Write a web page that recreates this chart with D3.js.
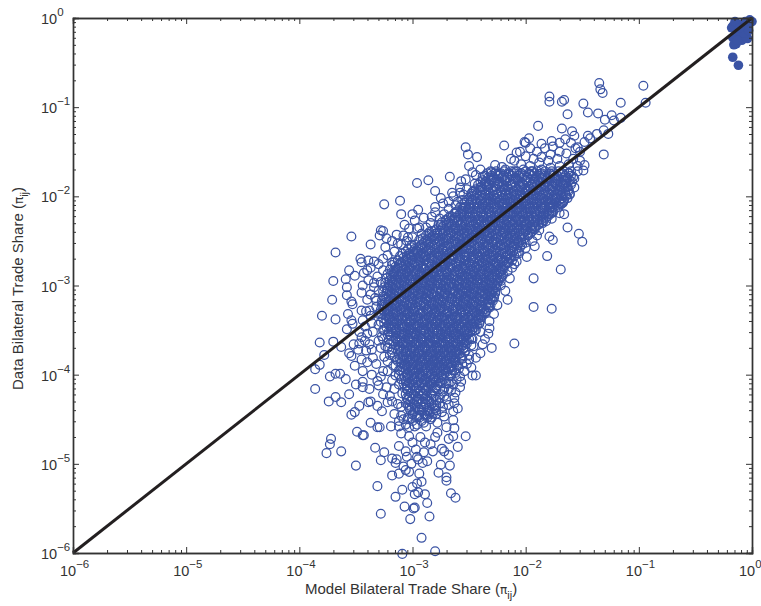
<!DOCTYPE html>
<html>
<head>
<meta charset="utf-8">
<script src="https://cdnjs.cloudflare.com/ajax/libs/d3/7.8.5/d3.min.js"></script>
<style>
  body { margin: 0; background: #fff; }
  text { font-family: "Liberation Sans", Arial, sans-serif; fill: #333; }
</style>
</head>
<body>
<div id="chart"></div>
<script>
// All shares below are written as -100 * log10(share)
var decades = [-6, -5, -4, -3, -2, -1, 0];
var minorMultiples = [2, 3, 4, 5, 6, 7, 8, 9];
var xLabel = "Model Bilateral Trade Share (";
var yLabel = "Data Bilateral Trade Share (";

// filled circles, top right corner [model, data]
var domesticShares = [[17,44],[12,53],[17,9],[14,13],[10,7],[6,4],[2,2],[4,8],[0,4],[6,13],[12,19],[17,22],[14,29],[16,30],[9,25],[4,23],[7,17],[18,11],[15,4],[3,14],[11,11],[13,25]];

// open circles that can be told apart, [model, data]
var tradeShares = [[253,145],[251,153],[243,156],[250,166],[227,165],[267,178],[286,182],[296,185],[280,194],[311,205],[325,209],[310,220],[295,215],[300,220],[280,212],[275,202],[264,200],[257,183],[253,181],[247,173],[230,173],[238,178],[258,190],[255,198],[247,195],[273,208],[260,206],[307,232],[328,238],[326,239],[329,244],[323,247],[354,245],[337,254],[368,263],[314,243],[313,253],[324,257],[303,236],[298,227],[294,235],[283,223],[280,238],[301,255],[304,246],
[346,270],[345,274],[339,272],[334,273],[337,280],[340,283],[356,283],[351,289],[343,286],[359,293],[370,295],[339,294],[344,300],[358,302],[345,308],[358,311],[334,302],[371,316],[354,318],[353,321],[332,317],[357,332],[341,329],[338,328],[380,334],[368,338],[354,339],[358,349],[353,343],[344,339],[382,364],[370,363],[363,369],[378,378],[356,376],[354,379],[382,389],[386,394],[351,390],[345,383],[373,402],[368,399],[364,399],[359,405],[386,416],[350,411],[344,408],[344,414],[331,407],[323,414],[347,365],[342,362],[341,373],[335,381],[326,396],[247,401],[244,401],[257,408],[248,360],[255,371],[244,381],[261,390],[252,388],
[374,430],[368,425],[363,431],[356,422],[354,445],[351,442],[347,435],[339,431],[337,430],[331,435],[327,441],[337,454],[331,459],[329,459],[319,458],[349,464],[344,468],[343,468],[372,472],[373,478],[376,488],[363,486],[350,502],[333,482],[325,487],[328,496],[318,494],[314,495],[315,499],[318,513],[312,511],[331,525],[309,529],[315,537],[328,556],[307,548],[298,549],[299,550],[302,562],[285,559],[287,544],[289,534],[298,534],[295,532],[300,526],[296,522],[292,520],[294,511],[306,507],[303,509],[277,510],[275,501],[267,502],[270,515],[270,519],[266,533],[262,538],[292,583],[280,598],[309,601],[253,469],[260,481],[278,465],[268,472],[264,469],[272,486],[268,490],[274,483],[282,486],[287,497],[295,495],[291,499],[297,484],[306,486],[312,480],[289,476],[293,470],[303,469],[312,458],[298,458],[288,458],[270,459],[263,460],[264,451],[272,447],[279,444],[260,438],[264,441],[285,444],[316,444],[322,431],[313,433],[320,424],[263,426],[263,432],[303,459],[310,466],[300,476],[305,492],[296,492],[301,500],[308,503],[290,487],[284,478],[280,470],
[135,73],[134,80],[132,84],[96,76],[94,95],[116,95],[149,96],[179,88],[179,94],[168,94],[166,92],[163,108],[145,106],[136,107],[130,114],[124,109],[122,115],[116,112],[189,121],[168,124],[159,127],[157,132],[145,132],[143,135],[137,130],[131,126],[127,130],[131,153],[219,143],[197,135],[201,139],[186,141],[177,138],[148,139],[154,145],[213,158],[208,151],[221,167],[149,171],[157,180],[157,190],[161,198],[167,206],[170,219],[166,220],[177,225],[185,230],[163,235],[153,242],[150,251],[179,245],[176,249],[190,244],[192,256],[199,268],[181,267],[169,282],[193,292],[208,273],[210,276],[216,284],[221,282],[222,295],[216,316],[193,324],[177,326],[225,322],[227,309],[232,340],[233,354],[210,365],[238,366],[230,370],[247,360],[241,343]];

// looser rings round the edge of the cloud, estimates
var cloudFringe = [[200,140],[196,146],[190,150],[183,146],[176,144],[170,140],[165,136],[160,140],[156,146],[152,150],[170,150],[178,153],[186,156],[193,158],[200,155],[205,150],[210,160],[204,164],[196,166],[188,162],[180,160],[172,158],[164,152],[158,158],[152,160],[148,165],[154,166],[162,164],[170,166],[178,168],[186,170],[194,172],[202,170],[210,172],[218,170],[225,175],[232,181],[240,170],[236,184],
[245,186],[252,192],[248,200],[256,204],[262,210],[268,214],[272,220],[265,196],[258,196],[244,176],[240,190],[276,225],[284,230],[288,235],[292,242],[300,246],[305,250],[280,218],[270,226],[262,218],[254,212],[290,224],[285,240],[275,232],[268,206],[296,236],[310,254],[318,250],[308,244],
[316,262],[322,266],[326,270],[318,274],[330,276],[326,283],[331,290],[328,296],[334,297],[330,306],[337,310],[333,314],[340,316],[332,324],[337,334],[345,328],[330,332],[336,342],[342,346],[330,344],[347,352],[340,354],[335,352],[326,350],[345,358],[338,366],[330,362],[352,366],[348,372],[336,372],[328,370],[325,380],[340,386],[332,388],[322,385],[344,396],[336,400],[328,402],[322,396],[318,406],[330,412],[316,416],[338,416],[326,422],[318,430],[310,436],
[232,325],[228,332],[236,330],[232,348],[240,352],[236,360],[244,350],[246,368],[250,378],[240,376],[256,382],[248,392],[262,398],[258,402],[254,396],[266,408],[258,414],[268,416],[272,424],[262,420],[276,432],[268,434],[280,438],[274,442],[284,450],[278,454],[292,452],[300,452],[308,450],[296,446],
[222,300],[218,306],[228,314],[214,292],[220,288],[212,280],[214,270],[206,264],[200,258],[204,252],[194,250],[198,244],[188,238],[192,234],[182,228],[186,222],[176,218],[178,212],[168,208],[172,202],[162,194],[166,188],[158,178],[162,174],[154,172],
[327,357],[321,361],[324,368],[318,372],[320,378],[314,383],[317,390],[312,395],[315,401],[310,405],[312,411],[307,415],[309,421],[305,426],[306,432],[303,437],
[252,362],[248,367],[253,373],[258,376],[250,383],[256,388],[262,386],[259,393],[265,395],[261,405],[267,402],[264,411],[270,410],[266,418],[273,419],[270,428],[276,426],[273,436],[279,434],[282,444],
[310,446],[304,450],[312,452],[300,444],[294,448],[288,446],[284,442],[306,456],[296,456],[290,454]];

// saturated middle of the cloud, rows of [data, model, model, ...]; positions here are estimates
var cloudRows = [
[172,231,226,219,213,208,200,195,190,183,177,171,166,160],
[174,234,227,222,215,210,204,197,192,186,179,175,168,162],
[177,236,230,224,219,212,206,201,194,188,183,176,172,165,160],
[179,233,228,221,216,209,203,198,191,186,180,174,167,163],
[182,238,231,226,218,214,207,200,196,189,185,178,173,166,161],
[184,240,235,228,223,217,210,205,199,192,187,181,175,169,164,159],
[187,242,236,232,225,219,213,206,202,195,190,184,177,172,167,160],
[189,239,234,227,221,216,209,204,197,193,186,180,176,170,163],
[192,244,238,233,226,220,215,208,203,198,191,186,179,174,168,162],
[194,246,240,235,229,222,217,211,205,200,194,188,183,176,171,165],
[197,248,243,236,231,225,218,213,208,201,196,190,184,179,172,167,161],
[199,245,239,233,228,221,216,210,204,198,193,187,181,175,169,164],
[202,250,244,238,232,227,220,214,209,202,197,191,186,180,174,168,163],
[204,252,247,240,235,229,223,218,211,206,200,193,188,182,177,170,166],
[207,254,248,243,236,231,224,219,213,207,202,195,190,183,178,173,167],
[209,256,250,245,238,233,227,220,216,209,204,198,192,186,180,175,169],
[212,258,253,246,241,235,228,223,217,212,205,200,194,187,183,176,171],
[214,255,249,243,237,232,225,219,214,208,203,196,191,185,179,174],
[217,261,256,250,244,239,233,226,221,215,209,204,198,192,187,181,176],
[219,263,258,252,247,240,235,230,223,218,212,206,200,195,188,184,177],
[222,266,260,254,249,243,237,231,226,219,214,208,203,197,191,185,180],
[224,268,262,257,250,245,238,233,227,222,216,209,205,198,193,187,182],
[227,271,265,259,253,247,241,235,230,224,217,212,206,201,195,189,184],
[229,274,268,261,256,250,244,239,232,227,221,215,209,204,197,192,186],
[232,277,270,265,258,253,246,241,236,229,224,217,212,206,200,194,189],
[234,273,267,262,255,249,243,237,231,226,220,214,208,202,196,191],
[237,279,274,268,262,256,250,244,239,232,227,220,215,210,203,198,192],
[239,283,276,271,264,259,252,247,241,236,229,223,218,212,206,200,194],
[242,286,280,273,268,261,255,250,244,237,232,226,220,214,209,202,196],
[244,288,282,277,270,264,259,252,246,241,234,229,222,217,211,205,198],
[247,291,285,279,273,268,261,255,250,243,238,232,226,219,214,208,201],
[249,294,288,281,276,270,263,258,251,246,240,234,228,222,216,210,204],
[252,290,284,278,272,266,260,254,248,242,236,230,225,218,213,206,200],
[254,298,292,286,280,275,268,262,257,250,245,238,233,227,221,215,209,203],
[257,301,295,289,284,277,271,266,259,253,248,241,235,229,224,218,212,205],
[259,304,298,292,286,280,274,269,262,256,250,245,238,232,227,220,214,208],
[262,306,300,295,288,283,277,270,265,259,253,247,241,236,229,223,217,211,206],
[264,309,303,296,291,285,279,273,268,261,255,250,243,238,232,226,220,214,208],
[267,311,305,299,293,288,281,275,270,264,258,252,246,240,234,228,223,216,210],
[269,308,302,296,290,284,278,272,266,260,254,248,242,237,231,225,218,213],
[272,313,307,301,295,289,283,278,271,266,259,254,248,241,236,230,224,219,212],
[274,316,310,304,298,293,286,280,275,268,262,257,250,245,238,233,227,221,215],
[277,318,312,306,300,295,288,283,276,271,265,259,253,247,241,235,229,224,218],
[279,315,309,303,297,291,285,279,273,267,261,256,249,244,238,232,226,220],
[282,320,314,308,303,296,290,285,278,272,267,260,255,249,243,237,231,226,220],
[284,317,311,305,299,294,287,281,275,270,263,258,252,246,240,234,228,222],
[287,322,316,310,304,298,292,286,281,274,269,263,256,251,245,239,233,227,222],
[289,319,313,307,301,295,290,283,277,272,265,260,254,248,242,236,230,225],
[292,323,318,311,306,300,294,288,282,276,270,264,258,252,247,240,235,229,223],
[294,320,315,309,302,297,291,285,279,273,268,261,256,250,243,238,232,226],
[297,324,318,312,307,300,295,289,283,277,271,266,259,253,248,242,236,230,225],
[299,321,315,310,304,298,292,286,280,275,268,263,257,251,245,239,233,227],
[302,325,319,314,307,302,296,290,284,278,272,267,260,254,249,243,237,231,226],
[304,322,316,311,305,299,293,287,282,275,270,264,258,252,246,240,234,229],
[307,326,320,314,309,303,297,291,285,279,274,267,262,256,250,244,238,232,227],
[309,323,317,312,306,300,294,288,283,276,271,265,259,253,247,241,236,230],
[312,326,321,315,310,303,298,292,286,280,274,269,262,257,251,245,239,233,228],
[314,323,318,312,307,301,295,289,284,277,272,266,260,254,248,243,236,231],
[317,327,321,316,310,304,299,293,287,281,275,270,263,258,252,246,240,234,229],
[319,324,318,313,307,301,296,290,284,278,273,267,261,255,249,244,238,232],
[322,327,322,316,311,305,300,293,288,282,276,271,264,259,253,247,241,235,231],
[324,325,319,314,308,302,297,290,285,279,274,268,262,256,250,245,239,233],
[327,328,322,317,311,306,300,294,288,283,277,272,265,260,254,248,242,237],
[329,325,320,314,308,303,298,291,286,280,275,269,263,257,251,246,240,235],
[332,327,321,315,310,304,299,293,287,281,276,270,264,258,253,247,241,238],
[334,324,319,313,307,302,296,290,284,279,273,267,261,255,249,244,239],
[337,326,320,316,310,305,299,293,288,282,276,270,265,259,253,247,242],
[339,323,318,312,306,301,295,289,283,278,272,266,260,254,249,244,240],
[342,325,319,314,309,303,297,291,285,280,274,268,262,257,251,246,241],
[344,321,316,310,305,299,294,288,282,276,271,265,259,254,248,243],
[347,323,317,312,307,301,296,290,284,279,273,267,261,256,250,245],
[349,319,314,309,303,298,292,286,281,275,270,264,258,252,247],
[352,321,315,310,304,299,293,288,282,277,271,265,260,254,249],
[354,317,312,307,301,296,290,285,279,274,268,262,257,251],
[357,319,313,308,302,297,291,286,280,275,269,264,258,253],
[359,315,310,304,299,293,288,282,277,271,266,260,255],
[362,317,311,306,300,295,289,284,278,273,267,262,256],
[364,313,308,302,297,291,286,280,275,269,264,258,254],
[367,315,309,304,298,293,287,282,276,271,265,260,255],
[369,311,306,300,295,289,284,279,273,268,262,257],
[372,313,308,302,297,291,286,281,275,270,264,259],
[374,310,305,299,294,288,283,277,272,266,261],
[377,312,306,301,295,290,285,279,274,268,263,259],
[379,309,303,298,292,287,282,276,271,265,261],
[382,311,305,300,294,289,284,278,273,267,262],
[384,308,302,297,291,286,281,275,270,264],
[387,310,304,299,293,288,283,277,272,266],
[389,307,301,296,290,285,280,274,269],
[392,309,303,298,292,287,281,276,271,266],
[394,306,300,295,289,284,278,273,268],
[397,308,302,297,291,286,280,275,270],
[399,305,299,294,288,283,278,272],
[402,307,301,296,291,285,280,274],
[404,304,298,293,288,282,277],
[407,306,300,295,290,284,279,275],
[409,303,297,292,287,281,276],
[412,305,299,294,289,283,278],
[415,302,296,291,286,280],
[418,304,298,293,288,282],
[421,301,295,290,284],
[424,303,297,292,287,281],
[427,300,294,289,283],
[430,302,296,291,285],
[433,299,293,288,283],
[437,301,295,290,285],
[441,298,292,287],
[445,300,294,289]
];

// a second pass over the same area, the picture is nearly solid blue there
var cloudRowsDense = [
[175,223,214,205,196,187,178,169],
[181,228,219,209,201,192,181,172,164],
[186,233,224,212,203,194,183,174,165],
[193,241,229,218,206,199,189,177,170],
[198,236,226,215,205,195,185,173,165],
[203,247,234,225,216,206,194,184,176],
[208,241,229,221,211,199,189,179,170],
[213,250,239,228,218,206,197,186,177],
[220,257,245,235,224,213,202,190,179],
[226,263,252,242,229,219,207,197,186],
[231,268,256,244,234,222,211,199,188],
[236,264,253,242,230,218,208,195],
[241,278,266,254,243,232,219,209,198],
[246,283,270,259,247,235,224,213,204],
[251,287,276,263,252,240,228,217,207],
[256,293,281,269,256,245,233,222,210],
[261,297,286,273,261,249,237,226,213],
[266,302,290,277,265,254,242,229,217],
[270,305,294,282,271,258,246,235,222],
[275,311,299,286,274,262,251,239,227,216],
[280,313,302,290,278,266,254,243,231,222],
[285,316,305,293,281,269,257,246,234,223],
[290,316,304,292,280,268,256,244,232,221],
[295,318,307,295,284,271,259,247,235,224],
[300,320,308,296,285,273,261,249,237,226],
[306,322,310,298,287,275,263,252,239,229],
[310,319,307,295,283,272,260,248,236,231],
[315,324,312,300,288,276,265,253,241,230],
[321,326,314,302,290,278,267,255,243,233],
[326,323,311,299,287,275,264,251,240],
[331,329,317,305,293,281,269,257,245,236],
[336,321,309,297,285,274,262,250,240],
[341,328,316,303,291,279,268,255,244],
[346,319,307,295,283,271,259,248],
[350,325,314,302,290,278,266,254,245],
[355,322,310,298,286,274,263,252],
[360,326,315,303,292,280,268,257,250],
[365,320,309,297,285,274,262,252],
[370,322,312,300,289,277,266,255],
[375,318,306,295,284,273,262,254],
[380,316,308,297,286,275,265,257],
[385,313,303,292,282,272,263],
[390,315,305,294,284,275,265,260],
[395,311,300,290,280,271,263],
[400,312,304,293,284,274,266],
[405,310,299,289,281,272],
[410,308,302,292,284,275,268],
[416,305,297,288,279,272],
[422,306,299,291,283,275],
[428,304,296,287,279],
[434,304,298,290,281],
[440,302,294,286,279],
[448,304,296,287,283]
];

var svgWidth = 761;
var svgHeight = 606;
var margin = { top: 18, right: 9, bottom: 53, left: 73 };
var chartWidth = svgWidth - margin.left - margin.right;
var chartHeight = svgHeight - margin.top - margin.bottom;

function toShare(v) { return Math.pow(10, -v / 100); }

var svg = d3.select("#chart")
  .append("svg")
  .attr("width", svgWidth)
  .attr("height", svgHeight);

var chart = svg.append("g")
  .attr("transform", "translate(" + margin.left + "," + margin.top + ")");

var x = d3.scaleLog().domain([1e-6, 1]).range([0, chartWidth]);
var y = d3.scaleLog().domain([1e-6, 1]).range([chartHeight, 0]);

// flatten the rows into the same [model, data] shape
var cloudPoints = [];
cloudRows.concat(cloudRowsDense).forEach(function(row) {
  row.slice(1).forEach(function(m) { cloudPoints.push([m, row[0]]); });
});

var openCircles = tradeShares.concat(cloudFringe, cloudPoints);

chart.selectAll(".open")
  .data(openCircles)
  .enter()
  .append("circle")
  .attr("class", "open")
  .attr("cx", function(d) { return x(toShare(d[0])); })
  .attr("cy", function(d) { return y(toShare(d[1])); })
  .attr("r", 4.4)
  .attr("fill", "none")
  .attr("stroke", "#3a53a4")
  .attr("stroke-width", 1.25);

chart.selectAll(".filled")
  .data(domesticShares)
  .enter()
  .append("circle")
  .attr("class", "filled")
  .attr("cx", function(d) { return x(toShare(d[0])); })
  .attr("cy", function(d) { return y(toShare(d[1])); })
  .attr("r", 4.8)
  .attr("fill", "#3a53a4");

// 45 degree line
chart.append("line")
  .attr("x1", x(1e-6))
  .attr("y1", y(1e-6))
  .attr("x2", x(1))
  .attr("y2", y(1))
  .attr("stroke", "#231f20")
  .attr("stroke-width", 3);

// Axes
var majors = decades.map(function(d) { return Math.pow(10, d); });
var minors = [];
decades.slice(0, -1).forEach(function(d) {
  minorMultiples.forEach(function(m) { minors.push(m * Math.pow(10, d)); });
});

function addAxis(maker, scale, ticks, size, move) {
  var g = chart.append("g")
    .attr("transform", move)
    .call(maker(scale).tickValues(ticks).tickSize(size).tickFormat(""));
  g.selectAll("path, line").attr("stroke", "#333").attr("stroke-width", 1);
  g.select(".domain").attr("stroke-width", 1.4);
}

var bottom = "translate(0," + chartHeight + ")";
var right = "translate(" + chartWidth + ",0)";
addAxis(d3.axisBottom, x, majors, -6, bottom);
addAxis(d3.axisBottom, x, minors, -3, bottom);
addAxis(d3.axisTop, x, majors, -6, "translate(0,0)");
addAxis(d3.axisTop, x, minors, -3, "translate(0,0)");
addAxis(d3.axisLeft, y, majors, -6, "translate(0,0)");
addAxis(d3.axisLeft, y, minors, -3, "translate(0,0)");
addAxis(d3.axisRight, y, majors, -6, right);
addAxis(d3.axisRight, y, minors, -3, right);

// Tick labels with raised exponents
function powerLabel(sel, d) {
  sel.append("tspan").attr("font-size", 14.5).text("10");
  sel.append("tspan")
    .attr("font-size", 11.5)
    .attr("dy", -8)
    .text(d < 0 ? "\u2212" + (-d) : d);
}

decades.forEach(function(d) {
  var p = Math.pow(10, d);
  chart.append("text")
    .attr("x", x(p) - 13)
    .attr("y", chartHeight + 23)
    .call(powerLabel, d);
  chart.append("text")
    .attr("x", -32)
    .attr("y", y(p) + 6)
    .call(powerLabel, d);
});

// Axis titles
function addTitle(sel, label) {
  sel.attr("font-size", 15);
  sel.append("tspan").text(label);
  sel.append("tspan").attr("font-family", "DejaVu Sans").attr("font-size", 12).text("\u03c0");
  sel.append("tspan").attr("font-size", 11).attr("dy", 5).text("ij");
  sel.append("tspan").attr("dy", -5).text(")");
}

svg.append("text")
  .attr("x", 305)
  .attr("y", 594)
  .call(addTitle, xLabel);

svg.append("text")
  .attr("transform", "translate(23,390) rotate(-90)")
  .call(addTitle, yLabel);
</script>
</body>
</html>
